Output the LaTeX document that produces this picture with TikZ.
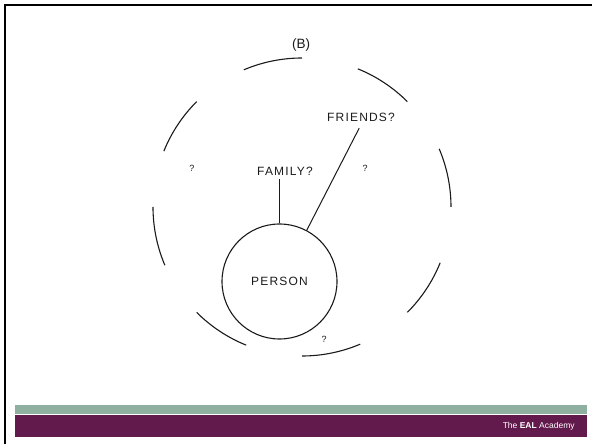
\documentclass[tikz,border=0pt]{standalone}
\usepackage{fontspec}
\setmainfont{Liberation Sans}
\newfontfamily\labelfont[LetterSpace=10]{Liberation Sans}
\usetikzlibrary{positioning}

\definecolor{barGreen}{HTML}{8FAFA0}
\definecolor{barPurple}{HTML}{621A4C}
\definecolor{inkGrey}{HTML}{1A1A1A}

\begin{document}
\begin{tikzpicture}[x=1pt,y=1pt,thick,inkGrey,
  main node/.style={circle,draw,line width=1.1pt,minimum size=115pt,inner sep=0pt,
  font=\labelfont\fontsize{12}{14}\selectfont},
  word node/.style={font=\labelfont\fontsize{12}{14}\selectfont,inner sep=3pt},
  query node/.style={font=\fontsize{9}{10}\selectfont,inner sep=1pt}]

  \useasboundingbox (0,0) rectangle (592,444);

  %slide frame and footer bars%
  \draw[black,line width=2pt] (5,0) -- (5,439) -- (592,439);
  \fill[barGreen] (15,30) rectangle (587,39);
  \fill[barPurple] (15,7) rectangle (587,28.5);
  \node[anchor=east,white,font=\fontsize{8.5}{10}\selectfont,inner sep=0pt] (brand) at (575,18)
    {The \textbf{EAL} Academy};

  \node[word node,font=\fontsize{13.5}{15}\selectfont] (title) at (301,399) {(B)};
  \node[main node] (person) at (279.5,162.5) {PERSON};
  \node[word node] (family) at (285,273) {FAMILY?};
  \node[word node] (friends) at (361,327) {FRIENDS?};
  \node[query node] (q1) at (192,276) {?};
  \node[query node] (q2) at (365,276) {?};
  \node[query node] (q3) at (324,105) {?};

  %broken outer ring%
  \coordinate (ring) at (302,237);
  \foreach \a in {0,45,...,315}
    \draw[line width=1.1pt] (ring) ++(\a:149) arc[start angle=\a,delta angle=23,radius=149];

  %Connects PERSON to FAMILY? and FRIENDS?
  \draw[line width=1pt] (person.north) -- (person.north |- family.south);
  \draw[line width=1pt,shorten >=4pt] (person.62) -- (friends.south);

\end{tikzpicture}
\end{document}
